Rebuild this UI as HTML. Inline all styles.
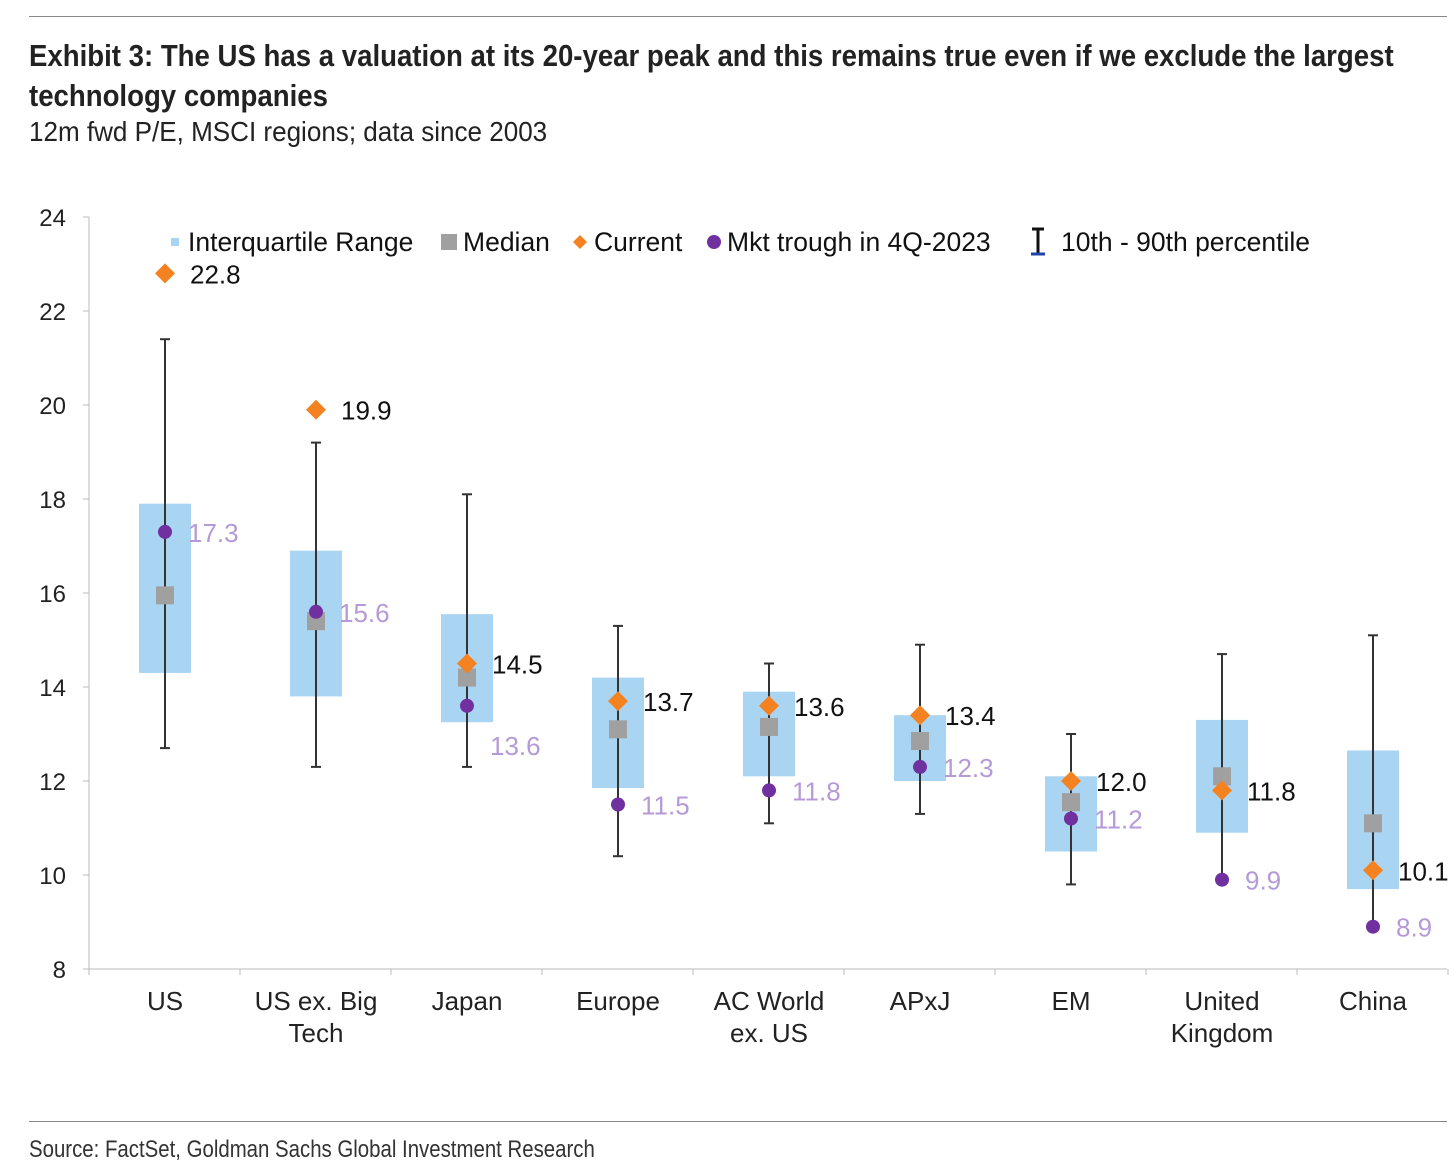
<!DOCTYPE html>
<html><head><meta charset="utf-8">
<style>
body{margin:0;background:#fff;width:1456px;height:1171px;overflow:hidden;font-family:"Liberation Sans",sans-serif}
.t{position:absolute;left:29px;color:#222;white-space:nowrap;transform-origin:0 0}
</style></head><body>
<div style="position:absolute;left:29px;top:16px;width:1418px;height:1px;background:#888"></div>
<div class="t" style="top:36px;font-size:31px;font-weight:bold;line-height:40px;transform:scaleX(0.89)">Exhibit 3: The US has a valuation at its 20-year peak and this remains true even if we exclude the largest<br>technology companies</div>
<div class="t" style="top:116px;font-size:28px;transform:scaleX(0.93)">12m fwd P/E, MSCI regions; data since 2003</div>
<svg id="c" width="1456" height="1171" style="position:absolute;left:0;top:0" font-family="Liberation Sans, sans-serif"></svg>
<div style="position:absolute;left:29px;top:1121px;width:1418px;height:1px;background:#888"></div>
<div class="t" style="top:1136px;font-size:24px;color:#333;transform:scaleX(0.85)">Source: FactSet, Goldman Sachs Global Investment Research</div>
<script>
const categories=[["US"],["US ex. Big","Tech"],["Japan"],["Europe"],["AC World","ex. US"],["APxJ"],["EM"],["United","Kingdom"],["China"]];
const p10=[12.7,12.3,12.3,10.4,11.1,11.3,9.8,9.9,8.9];
const p90=[21.4,19.2,18.1,15.3,14.5,14.9,13.0,14.7,15.1];
const q1=[14.3,13.8,13.25,11.85,12.1,12.0,10.5,10.9,9.7];
const q3=[17.9,16.9,15.55,14.2,13.9,13.4,12.1,13.3,12.65];
const median=[15.95,15.4,14.2,13.1,13.15,12.85,11.55,12.1,11.1];
const current=[22.8,19.9,14.5,13.7,13.6,13.4,12.0,11.8,10.1];
const trough=[17.3,15.6,13.6,11.5,11.8,12.3,11.2,9.9,8.9];
const yTicks=[8,10,12,14,16,18,20,22,24];
const svg=document.getElementById('c');const NS='http://www.w3.org/2000/svg';
const y=v=>969-(v-8)*47;
const x=i=>165+i*151;
function mk(tag,a,parent){const e=document.createElementNS(NS,tag);for(const k in a)e.setAttribute(k,a[k]);(parent||svg).appendChild(e);return e;}
let e=mk('line',{x1:89,y1:217,x2:89,y2:969,stroke:'#bbb'});


e=mk('line',{x1:89,y1:969,x2:1447,y2:969,stroke:'#bbb'});


yTicks.forEach(v=>{
  mk('line',{x1:83,y1:y(v),x2:89,y2:y(v),stroke:'#bbb'});
  const t=mk('text',{x:66,y:y(v)+9,'text-anchor':'end','font-size':24,fill:'#222'});t.textContent=v;
  
  
});
for(let i=0;i<=categories.length;i++)mk('line',{x1:89+i*151,y1:969,x2:89+i*151,y2:975,stroke:'#bbb'});
categories.forEach((c,i)=>{
  c.forEach((s,j)=>{const t=mk('text',{x:x(i),y:1010+j*32,'text-anchor':'middle','font-size':26,fill:'#222'});t.textContent=s;
  
  });
  const g=mk('g',{});
  
  
  mk('rect',{x:x(i)-26,y:y(q3[i]),width:52,height:y(q1[i])-y(q3[i]),fill:'#a9d4f2'},g);
  mk('line',{x1:x(i),y1:y(p90[i]),x2:x(i),y2:y(p10[i]),stroke:'#333','stroke-width':2},g);
  mk('line',{x1:x(i)-5,y1:y(p90[i]),x2:x(i)+5,y2:y(p90[i]),stroke:'#333','stroke-width':2},g);
  mk('line',{x1:x(i)-5,y1:y(p10[i]),x2:x(i)+5,y2:y(p10[i]),stroke:'#333','stroke-width':2},g);
  mk('rect',{x:x(i)-9,y:y(median[i])-9,width:18,height:18,fill:'#a0a0a0'},g);
  const cy=y(current[i]);
  mk('polygon',{points:`${x(i)},${cy-10} ${x(i)+10},${cy} ${x(i)},${cy+10} ${x(i)-10},${cy}`,fill:'#f58220'},g);
  mk('circle',{cx:x(i),cy:y(trough[i]),r:7,fill:'#7030a0'},g);
  let t=mk('text',{x:x(i)+25,y:cy+10,'font-size':26,fill:'#111'},g);t.textContent=current[i].toFixed(1);
  
  
  t=mk('text',{x:x(i)+23,y:y(trough[i])+(i==2?49:10),'font-size':26,fill:'#b59ad8'},g);t.textContent=trough[i].toFixed(1);
  
  
});
const lg=mk('g',{});


mk('rect',{x:171,y:238,width:8,height:8,fill:'#a9d4f2'},lg);
mk('rect',{x:441,y:234,width:16,height:16,fill:'#a0a0a0'},lg);
mk('polygon',{points:'580,235 587,242 580,249 573,242',fill:'#f58220'},lg);
mk('circle',{cx:714,cy:242,r:7,fill:'#7030a0'},lg);
mk('line',{x1:1038,y1:229,x2:1038,y2:253,stroke:'#111','stroke-width':3},lg);
mk('line',{x1:1032,y1:229,x2:1044,y2:229,stroke:'#111','stroke-width':3},lg);
mk('line',{x1:1031,y1:254,x2:1045,y2:254,stroke:'#2244aa','stroke-width':3},lg);
[['Interquartile Range',188],['Median',463],['Current',594],['Mkt trough in 4Q-2023',727],['10th - 90th percentile',1061]].forEach(([s,px])=>{
  const t=mk('text',{x:px,y:251,'font-size':26.5,fill:'#111'},lg);t.textContent=s;
  
  
});
</script>
</body></html>
